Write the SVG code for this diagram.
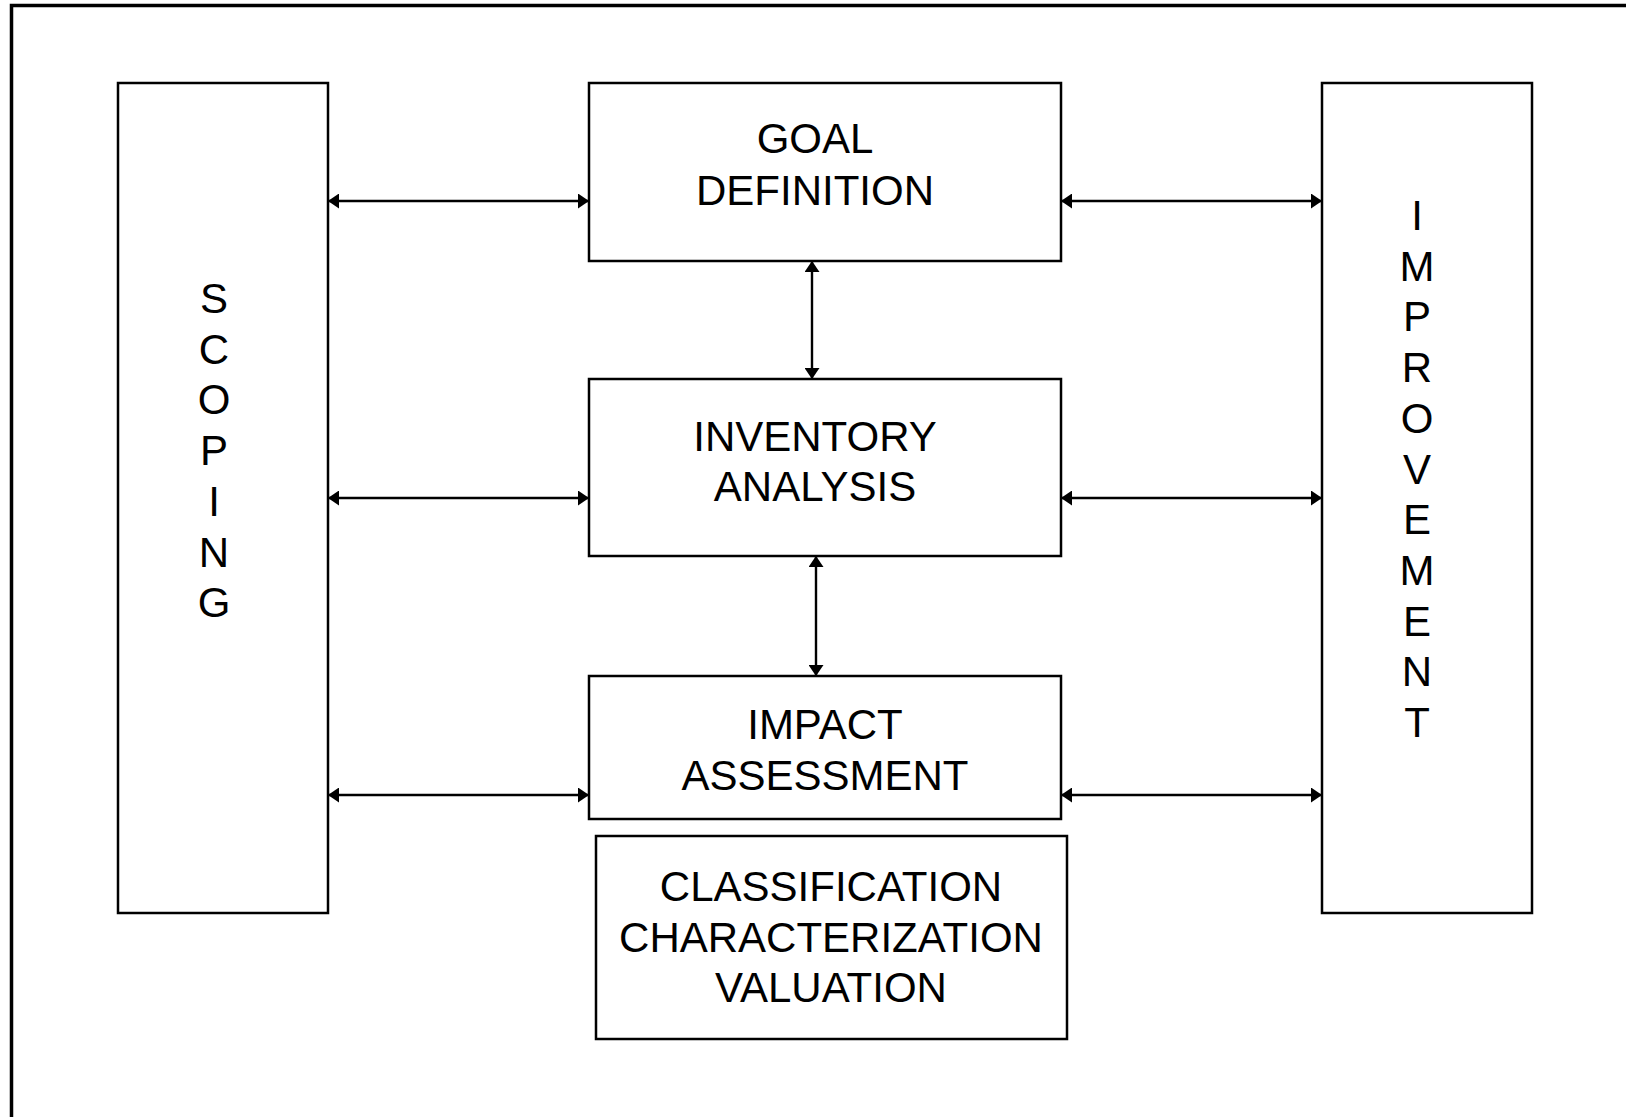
<svg xmlns="http://www.w3.org/2000/svg" width="1626" height="1117" viewBox="0 0 1626 1117">
<style>
.box{fill:#fff;stroke:#000;stroke-width:2.5}
.lbl{font-family:"Liberation Sans",Arial,sans-serif;font-size:42px;fill:#000;text-anchor:middle}
.con{stroke:#000;stroke-width:2.4;fill:none;marker-start:url(#ah);marker-end:url(#ah)}
</style>
<defs>
<marker id="ah" viewBox="0 0 11 15" refX="11" refY="7.5" markerWidth="11" markerHeight="15" markerUnits="userSpaceOnUse" orient="auto-start-reverse">
<path d="M0,0 L11,7.5 L0,15 z" fill="#000"/>
</marker>
</defs>
<rect width="1626" height="1117" fill="#fff"/>
<path d="M11.5,1117 V5.5 H1626" fill="none" stroke="#000" stroke-width="3.5"/>
<g id="scoping">
<rect class="box" x="118" y="83" width="210" height="830"/>
<text class="lbl"><tspan x="214" y="313">S</tspan><tspan x="214" y="363.5">C</tspan><tspan x="214" y="414">O</tspan><tspan x="214" y="465">P</tspan><tspan x="214" y="516">I</tspan><tspan x="214" y="566.5">N</tspan><tspan x="214" y="617">G</tspan></text>
</g>
<g id="improvement">
<rect class="box" x="1322" y="83" width="210" height="830"/>
<text class="lbl"><tspan x="1417" y="230">I</tspan><tspan x="1417" y="280.7">M</tspan><tspan x="1417" y="331.4">P</tspan><tspan x="1417" y="382.1">R</tspan><tspan x="1417" y="432.8">O</tspan><tspan x="1417" y="483.5">V</tspan><tspan x="1417" y="534.2">E</tspan><tspan x="1417" y="584.9">M</tspan><tspan x="1417" y="635.6">E</tspan><tspan x="1417" y="686.3">N</tspan><tspan x="1417" y="737">T</tspan></text>
</g>
<g id="goal">
<rect class="box" x="589" y="83" width="472" height="178"/>
<text class="lbl"><tspan x="815" y="153">GOAL</tspan><tspan x="815" y="205">DEFINITION</tspan></text>
</g>
<g id="inventory">
<rect class="box" x="589" y="379" width="472" height="177"/>
<text class="lbl"><tspan x="815" y="451">INVENTORY</tspan><tspan x="815" y="501">ANALYSIS</tspan></text>
</g>
<g id="impact">
<rect class="box" x="589" y="676" width="472" height="143"/>
<text class="lbl"><tspan x="825" y="739">IMPACT</tspan><tspan x="825" y="790">ASSESSMENT</tspan></text>
</g>
<g id="classification">
<rect class="box" x="596" y="836" width="471" height="203"/>
<text class="lbl"><tspan x="831" y="901">CLASSIFICATION</tspan><tspan x="831" y="951.5">CHARACTERIZATION</tspan><tspan x="831" y="1002">VALUATION</tspan></text>
</g>
<g id="connectors">
<line class="con" x1="328" y1="201" x2="589" y2="201"/>
<line class="con" x1="1061" y1="201" x2="1322" y2="201"/>
<line class="con" x1="328" y1="498" x2="589" y2="498"/>
<line class="con" x1="1061" y1="498" x2="1322" y2="498"/>
<line class="con" x1="328" y1="795" x2="589" y2="795"/>
<line class="con" x1="1061" y1="795" x2="1322" y2="795"/>
<line class="con" x1="812" y1="261" x2="812" y2="379"/>
<line class="con" x1="816" y1="556" x2="816" y2="676"/>
</g>
</svg>
